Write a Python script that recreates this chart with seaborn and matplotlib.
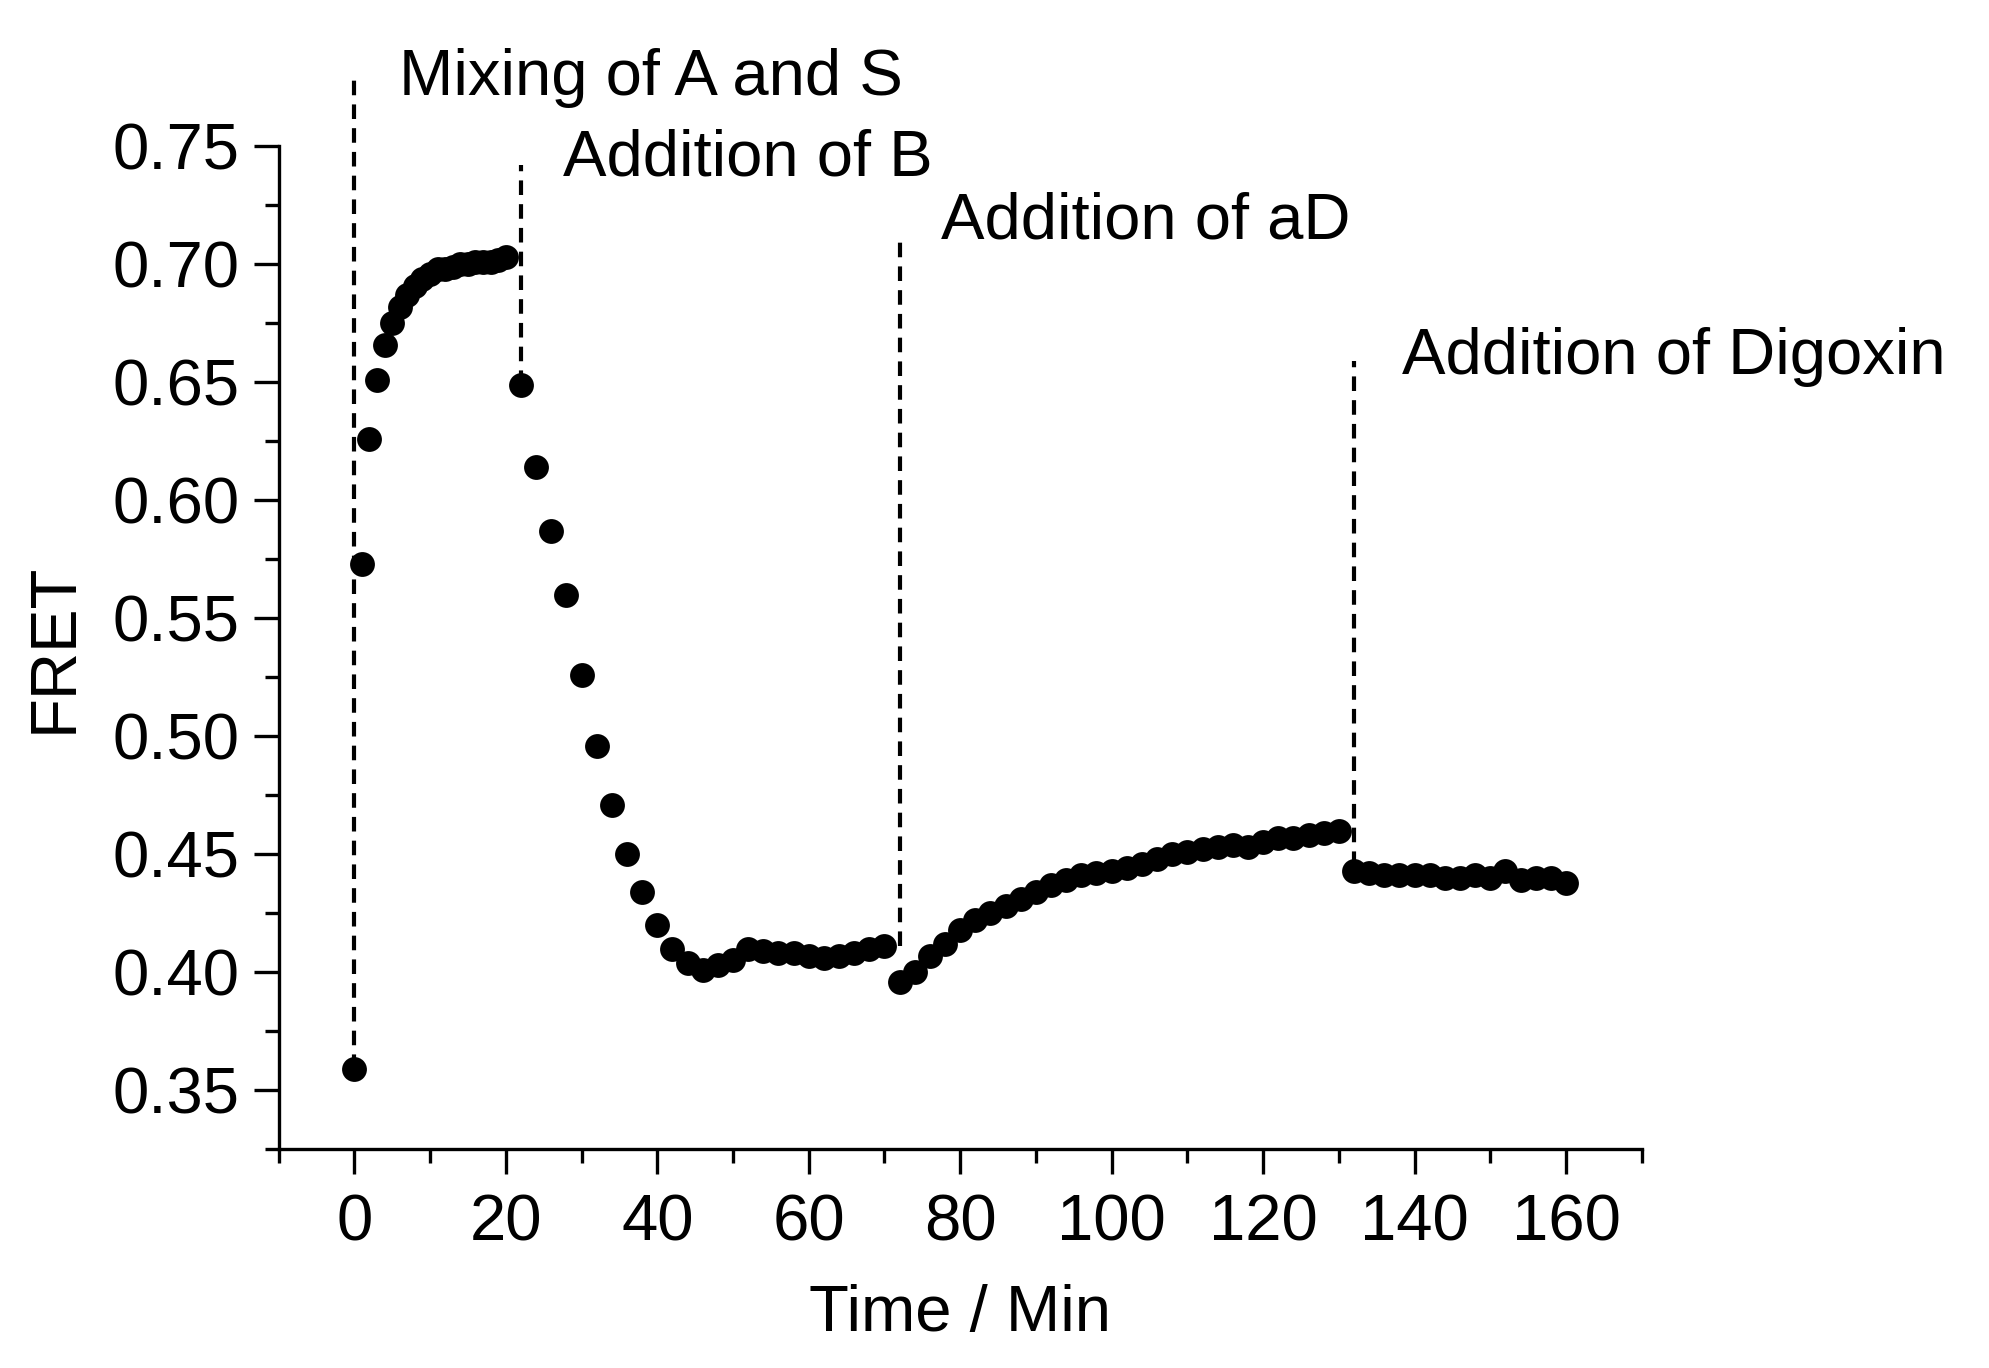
import numpy as np
import pandas as pd
import matplotlib
matplotlib.use("Agg")
import matplotlib.pyplot as plt
from matplotlib.ticker import MultipleLocator
import seaborn as sns

# ---- data ----
t_mix = [0, 1, 2, 3, 4, 5, 6, 7, 8, 9, 10, 11, 12, 13, 14, 15, 16, 17, 18, 19, 20]
f_mix = [0.359, 0.573, 0.626, 0.651, 0.666, 0.675, 0.682, 0.687, 0.691, 0.694, 0.696,
         0.698, 0.698, 0.699, 0.700, 0.700, 0.701, 0.701, 0.701, 0.702, 0.703]

t_b = [22, 24, 26, 28, 30, 32, 34, 36, 38, 40, 42, 44, 46, 48, 50, 52, 54, 56, 58, 60,
       62, 64, 66, 68, 70]
f_b = [0.649, 0.614, 0.587, 0.560, 0.526, 0.496, 0.471, 0.450, 0.434, 0.420, 0.410,
       0.404, 0.401, 0.403, 0.405, 0.410, 0.409, 0.408, 0.408, 0.407, 0.406, 0.407,
       0.408, 0.410, 0.411]

t_ad = [72, 74, 76, 78, 80, 82, 84, 86, 88, 90, 92, 94, 96, 98, 100, 102, 104, 106, 108,
        110, 112, 114, 116, 118, 120, 122, 124, 126, 128, 130]
f_ad = [0.396, 0.400, 0.407, 0.412, 0.418, 0.422, 0.425, 0.428, 0.431, 0.434, 0.437,
        0.439, 0.441, 0.442, 0.443, 0.444, 0.446, 0.448, 0.450, 0.451, 0.452, 0.453,
        0.454, 0.453, 0.455, 0.457, 0.457, 0.458, 0.459, 0.460]

t_dig = [132, 134, 136, 138, 140, 142, 144, 146, 148, 150, 152, 154, 156, 158, 160]
f_dig = [0.443, 0.442, 0.441, 0.441, 0.441, 0.441, 0.440, 0.440, 0.441, 0.440, 0.443,
         0.439, 0.440, 0.440, 0.438]

event_times = [0, 22, 72, 132]
event_low = [0.359, 0.649, 0.411, 0.445]
event_high = [0.779, 0.742, 0.710, 0.659]
event_labels = ["Mixing of A and S", "Addition of B", "Addition of aD", "Addition of Digoxin"]
label_x = [5.9, 27.6, 77.5, 138.3]
label_y = [0.7716, 0.7376, 0.711, 0.6535]

x_ticks = [0, 20, 40, 60, 80, 100, 120, 140, 160]
y_ticks = [0.35, 0.40, 0.45, 0.50, 0.55, 0.60, 0.65, 0.70, 0.75]

df = pd.DataFrame({
    "Time": t_mix + t_b + t_ad + t_dig,
    "FRET": f_mix + f_b + f_ad + f_dig,
})

# ---- style ----
sns.set_style("ticks")
plt.rcParams['font.family'] = ['Liberation Sans', 'DejaVu Sans']
plt.rcParams['text.color'] = 'black'
plt.rcParams['axes.labelcolor'] = 'black'

fig = plt.figure(figsize=(19.9, 13.68), dpi=100)
ax = fig.add_axes([0.140, 0.160, 0.685, 0.733])

for t, lo, hi in zip(event_times, event_low, event_high):
    ax.plot([t, t], [lo, hi], color="black", lw=3.0, ls=(0, (3.5, 2.2)), clip_on=False, zorder=1)

sns.scatterplot(data=df, x="Time", y="FRET", ax=ax, color="black", s=320,
                edgecolor="black", linewidth=0, zorder=3, clip_on=False, legend=False)

for txt, x, y in zip(event_labels, label_x, label_y):
    ax.text(x, y, txt, fontsize=47, ha="left", va="baseline", color="black", clip_on=False)

ax.set_xlim(-10, 170)
ax.set_ylim(0.325, 0.75)
ax.set_xticks(x_ticks)
ax.set_yticks(y_ticks)
ax.set_yticklabels([f"{v:.2f}" for v in y_ticks])
ax.xaxis.set_minor_locator(MultipleLocator(10))
ax.yaxis.set_minor_locator(MultipleLocator(0.025))

ax.tick_params(axis="both", which="major", direction="out", length=18, width=2.4,
               labelsize=47, color="black", labelcolor="black", pad=10)
ax.tick_params(axis="both", which="minor", direction="out", length=10, width=2.4, color="black")
ax.tick_params(axis="x", which="major", pad=14)

for side in ["top", "right"]:
    ax.spines[side].set_visible(False)
for side in ["left", "bottom"]:
    ax.spines[side].set_linewidth(2.4)
    ax.spines[side].set_color("black")

ax.set_xlabel("Time / Min", fontsize=47, labelpad=22, color="black")
ax.set_ylabel("FRET", fontsize=47, labelpad=20, color="black")

fig.savefig("out.png", dpi=100, facecolor="white")
